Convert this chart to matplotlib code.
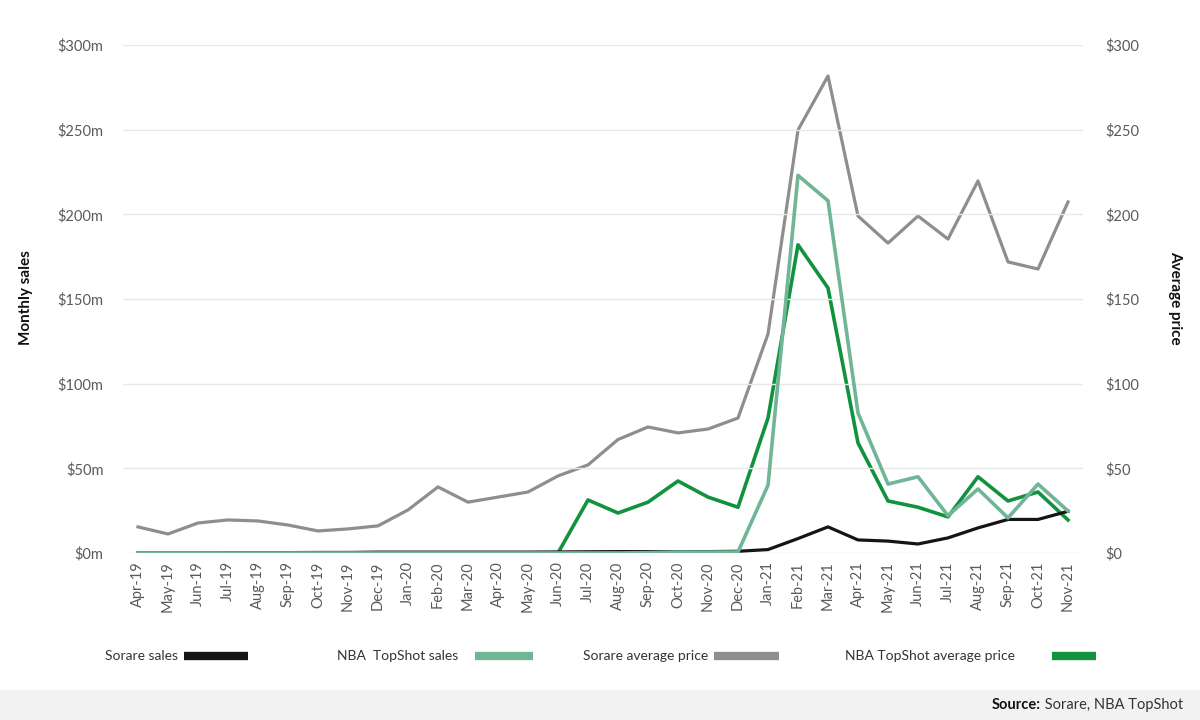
import numpy as np
import matplotlib.pyplot as plt
from matplotlib.lines import Line2D
from matplotlib.patches import Rectangle

plt.rcParams['font.family'] = ['Lato', 'DejaVu Sans']

months = ["Apr-19", "May-19", "Jun-19", "Jul-19", "Aug-19", "Sep-19", "Oct-19", "Nov-19", "Dec-19",
          "Jan-20", "Feb-20", "Mar-20", "Apr-20", "May-20", "Jun-20", "Jul-20", "Aug-20", "Sep-20",
          "Oct-20", "Nov-20", "Dec-20", "Jan-21", "Feb-21", "Mar-21", "Apr-21", "May-21", "Jun-21",
          "Jul-21", "Aug-21", "Sep-21", "Oct-21", "Nov-21"]

# monthly sales, $m
sorare_sales = [0.1, 0.1, 0.1, 0.2, 0.2, 0.2, 0.3, 0.3, 0.5, 0.5, 0.5, 0.5, 0.5, 0.5, 0.6, 0.7,
                0.8, 0.8, 0.7, 0.8, 1.0, 2.0, 8.5, 15.4, 7.7, 7.0, 5.3, 8.9, 14.8, 19.8, 19.8, 24.6]
topshot_sales = [0, 0, 0, 0, 0, 0, 0, 0, 0, 0, 0, 0, 0, 0, 0, 0, 0, 0.2, 0.5, 0.5, 0.6,
                 40.0, 223.0, 208.0, 82.7, 40.7, 45.0, 22.0, 37.8, 20.7, 40.7, 24.8]
# average price, $
sorare_price = [15.4, 11.2, 17.7, 19.5, 18.9, 16.5, 13.0, 14.2, 16.0, 25.4, 39.0, 30.0, 33.0,
                36.0, 45.5, 52.0, 67.0, 74.4, 70.9, 73.2, 79.7, 129.3, 249.8, 281.7, 199.0,
                183.0, 199.0, 185.4, 219.7, 171.9, 167.7, 207.3]
topshot_price = [np.nan] * 14 + [0.0, 31.3, 23.6, 30.0, 42.5, 33.0, 27.0, 79.7, 182.0, 156.5,
                                 65.0, 30.7, 27.0, 21.3, 45.0, 30.7, 36.0, 19.5]

left_ticks = [0, 50, 100, 150, 200, 250, 300]

c_black = "#151515"
c_light = "#6fb596"
c_gray = "#8e8e8e"
c_green = "#12923e"
tick_col = "#5a5a5a"

fig = plt.figure(figsize=(12, 7.2), dpi=100)
ax = fig.add_axes([0.1025, 0.232, 0.8, 0.7055])
ax2 = ax.twinx()

x = np.arange(len(months))
ax2.plot(x, sorare_price, color=c_gray, lw=2.3, zorder=2)
ax.plot(x, sorare_sales, color=c_black, lw=2.3, zorder=3)
ax2.plot(x, topshot_price, color=c_green, lw=2.6, zorder=4)
ax.plot(x, topshot_sales, color=c_light, lw=2.6, zorder=5)

for a in (ax, ax2):
    a.set_ylim(0, 300)
    a.set_xlim(-0.5, len(months) - 0.5)
    a.set_yticks(left_ticks)
    for s in a.spines.values():
        s.set_visible(False)
    a.tick_params(axis='both', length=0, colors=tick_col, labelsize=10.5)

ax.set_zorder(ax2.get_zorder() + 1)
ax.patch.set_visible(False)
ax.set_yticklabels([f"${v}m" for v in left_ticks])
ax2.set_yticklabels([f"${v}" for v in left_ticks])
ax.tick_params(axis='y', pad=14)
ax2.tick_params(axis='y', pad=16)
ax.grid(axis='y', color="#e8e8e8", lw=1)
ax.set_axisbelow(True)
ax.set_xticks(x)
ax.set_xticklabels(months, rotation=90)
ax.tick_params(axis='x', pad=6)

fig.text(0.022, 0.587, "Monthly sales", rotation=90, ha='center', va='center',
         fontsize=11, fontweight='bold', color="#111111")
fig.text(0.979, 0.587, "Average price", rotation=270, ha='center', va='center',
         fontsize=11, fontweight='bold', color="#111111")

renderer = fig.canvas.get_renderer()

# legend row: text, then a swatch (at its spot, or just after the text)
legend = [("Sorare sales", c_black, 105, 183, 247),
          ("NBA  TopShot sales", c_light, 337, 475, 533),
          ("Sorare average price", c_gray, 583, 710, 775),
          ("NBA TopShot average price", c_green, 845, 1052, 1096)]
ly = 1 - 656 / 720
for label, col, tx, s0, s1 in legend:
    t = fig.text(tx / 1200, ly, label, ha='left', va='center', fontsize=10, color="#333333")
    bb = t.get_window_extent(renderer)
    x0 = max(s0, bb.x1 + 6)
    x1 = x0 + (s1 - s0)
    fig.add_artist(Line2D([x0 / 1200, x1 / 1200], [ly, ly], color=col, lw=6,
                          solid_capstyle='butt', transform=fig.transFigure))

# footer band
fig.add_artist(Rectangle((0, 0), 1, 30 / 720, transform=fig.transFigure,
                         color="#f2f2f2", zorder=0))
src = fig.text(0.986, 15 / 720, " Sorare, NBA TopShot", ha='right', va='center',
               fontsize=10.5, color="#333333")
bb = src.get_window_extent(renderer)
fig.text(bb.x0 / 1200, 15 / 720, "Source:", ha='right', va='center',
         fontsize=10.5, fontweight='bold', color="#111111")

fig.savefig("out.png", dpi=100)
